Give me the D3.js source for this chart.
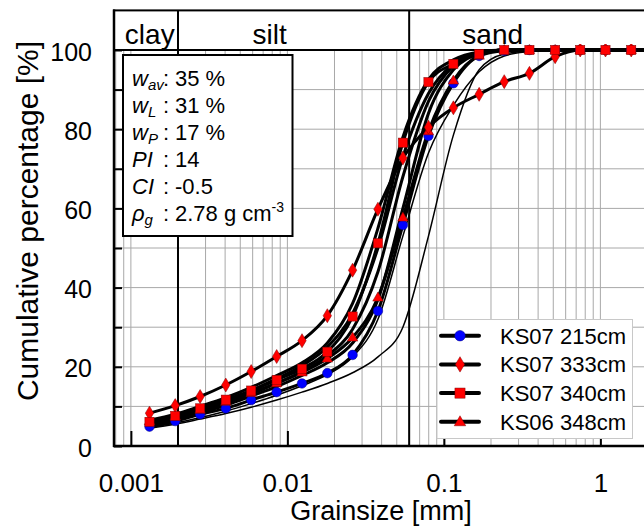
<!DOCTYPE html>
<html><head><meta charset="utf-8">
<script src="https://cdn.jsdelivr.net/npm/d3@7"></script>
<style>body{margin:0;background:#fff} svg{display:block;font-family:"Liberation Sans",Arial,sans-serif}</style>
</head><body><svg id="c" width="644" height="528"></svg>
<script>
// ---- data ----
const grain = [0.001315,0.00192,0.00277,0.00404,0.00587,0.00854,0.0124,0.0180,0.0261,0.0379,0.0547,0.0797,0.115,0.168,0.243,0.352,0.514,0.743,1.078,1.574,2.29];
const ks07_215 = [4.9,6.3,8.0,9.5,11.6,13.6,15.8,18.4,23.0,34.1,55.8,78.3,91.6,98.5,99.8,100,100,100,100,100,100];
const ks07_333 = [8.3,10.2,12.5,15.4,18.8,22.6,26.6,32.9,44.4,59.8,72.7,80.5,85.4,88.8,92.0,94.1,98.3,100,100,100,100];
const ks07_340 = [6.1,7.6,9.5,11.7,14.0,16.7,19.5,23.8,32.7,51.2,76.6,91.9,96.5,99.0,100,100,100,100,100,100,100];
const ks06_348 = [6.3,7.5,9.2,11.2,13.4,15.9,18.6,22.1,27.4,37.5,57.7,79.5,92.3,98.6,100,100,100,100,100,100,100];
// unmarked samples
const other1 = [6.5,8.0,10.0,12.2,14.8,17.8,21.0,26.0,36.0,55.0,78.0,92.5,97.5,99.5,100,100,100,100,100,100,100];
const other2 = [6.2,7.6,9.4,11.5,14.0,17.0,20.3,25.0,33.5,50.0,73.0,89.0,96.5,99.3,100,100,100,100,100,100,100];
const other3 = [5.8,7.2,8.9,10.9,13.2,15.8,18.8,22.8,29.5,44.0,68.0,87.0,96.0,99.2,100,100,100,100,100,100,100];
const other4 = [5.3,6.7,8.4,10.3,12.6,15.0,17.8,21.0,26.0,37.0,60.0,84.0,95.0,99.0,100,100,100,100,100,100,100];
const thin1 = [4.5,5.5,6.8,8.2,9.8,11.6,13.6,15.8,18.5,22.5,30.0,53.0,78.5,95.0,99.0,99.7,100,100,100,100,100];
const thin2 = [4.6,5.8,7.2,8.8,10.7,12.8,15.2,18.0,22.5,32.0,53.0,74.0,86.0,94.5,98.5,99.6,100,100,100,100,100];
const seriesNames = ["KS07 215cm","KS07 333cm","KS07 340cm","KS06 348cm"];
const xTicks = [0.001,0.01,0.1,1];
const xTickLabels = ["0.001","0.01","0.1","1"];
const yTicks = [0,10,20,30,40,50,60,70,80,90,100];
const yTickLabels = [0,20,40,60,80,100];
const boundaries = [0.002,0.06];
const classes = ["clay","silt","sand"];
const classPos = [0.00132,0.0077,0.205];
const props = [
  {sym:"w", sub:"av", val:"35 %"},
  {sym:"w", sub:"L", val:"31 %"},
  {sym:"w", sub:"P", val:"17 %"},
  {sym:"PI", sub:"", val:"14"},
  {sym:"CI", sub:"", val:"-0.5"},
  {sym:"ρ", sub:"g", val:"2.78 g cm", sup:"-3"}
];

// ---- layout ----
const svg = d3.select("#c");
const x = d3.scaleLog().domain([0.00078, 2.0]).range([114, 647.5]);
const y = d3.scaleLinear().domain([0, 110]).range([446, 10.4]);
const X0 = 114, X1 = 644;

// grid
const gridV = [];
for (let e = -4; e <= 0; e++) for (let k = 1; k <= 9; k++) { const v = k*Math.pow(10,e); if (v > 0.00078 && v < 2) gridV.push(v); }
svg.append("g").selectAll("line").data(gridV).join("line")
  .attr("x1", d=>x(d)).attr("x2", d=>x(d)).attr("y1", y(0)).attr("y2", y(100))
  .attr("stroke", "#a8a8a8").attr("stroke-width", 1);
svg.append("g").selectAll("line").data(d3.range(10,100,10)).join("line")
  .attr("x1", X0).attr("x2", X1).attr("y1", d=>y(d)).attr("y2", d=>y(d))
  .attr("stroke", "#a8a8a8").attr("stroke-width", 1);

// header box
svg.append("rect").attr("x", X0).attr("y", y(110)).attr("width", 540).attr("height", y(100)-y(110))
  .attr("fill", "#fff").attr("stroke", "#000").attr("stroke-width", 2);
svg.append("g").selectAll("line").data(boundaries).join("line")
  .attr("x1", d=>x(d)).attr("x2", d=>x(d)).attr("y1", y(110)).attr("y2", y(0))
  .attr("stroke", "#000").attr("stroke-width", 2);
svg.append("g").selectAll("text").data(classes).join("text")
  .attr("x", (d,i)=>x(classPos[i])).attr("y", 43.5).attr("text-anchor","middle")
  .attr("font-size", 28).text(d=>d);

// info box
svg.append("rect").attr("x", 123).attr("y", 55).attr("width", 169.5).attr("height", 181)
  .attr("fill", "#fff").attr("stroke", "#000").attr("stroke-width", 2);
const info = svg.append("g").attr("font-size", 22);
props.forEach((p,i) => {
  const by = 86 + i*27;
  const t = info.append("text").attr("x", 132).attr("y", by);
  t.append("tspan").attr("font-style","italic").text(p.sym);
  if (p.sub) t.append("tspan").attr("font-style","italic").attr("font-size",15).attr("dy",4).text(p.sub);
  info.append("text").attr("x", 163).attr("y", by).text(":");
  const v = info.append("text").attr("x", 175).attr("y", by).text(p.val);
  if (p.sup) v.append("tspan").attr("font-size",14).attr("dy",-9).text(p.sup);
});

// curves
svg.append("clipPath").attr("id","pc").append("rect").attr("x",X0).attr("y",44).attr("width",X1-X0).attr("height",402);
const line = d3.line().x(d=>x(d[0])).y(d=>y(d[1])).curve(d3.curveMonotoneX);
const curves = svg.append("g").attr("clip-path","url(#pc)").attr("fill","none").attr("stroke","#000")
  .attr("stroke-linejoin","round").attr("stroke-linecap","round");
[thin1, thin2].forEach(s => curves.append("path").attr("d", line(grain.map((g,i)=>[g,s[i]]))).attr("stroke-width",1.5));
[other1, other2, other3, other4].forEach(s => curves.append("path").attr("d", line(grain.map((g,i)=>[g,s[i]]))).attr("stroke-width",3));
const marked = [ks07_215, ks06_348, ks07_333, ks07_340];
marked.forEach(s => curves.append("path").attr("d", line(grain.map((g,i)=>[g,s[i]]))).attr("stroke-width",3));

// markers
const sym = {
  circle: (g,cx,cy,sc=1)=>g.append("circle").attr("cx",cx).attr("cy",cy).attr("r",4.8*sc).attr("fill","#0000ff").attr("stroke","#00007a").attr("stroke-width",0.5),
  diamond: (g,cx,cy,sc=1)=>g.append("path").attr("d",`M${cx},${cy-7*sc}L${cx+4.2*sc},${cy}L${cx},${cy+7*sc}L${cx-4.2*sc},${cy}Z`).attr("fill","#ff0000").attr("stroke","#800000").attr("stroke-width",0.5),
  square: (g,cx,cy,sc=1)=>g.append("rect").attr("x",cx-4.6*sc).attr("y",cy-4.6*sc).attr("width",9.2*sc).attr("height",9.2*sc).attr("fill","#ff0000").attr("stroke","#800000").attr("stroke-width",0.5),
  triangle: (g,cx,cy,sc=1)=>g.append("path").attr("d",`M${cx},${cy-5.5*sc}L${cx+5.2*sc},${cy+3.6*sc}L${cx-5.2*sc},${cy+3.6*sc}Z`).attr("fill","#ff0000").attr("stroke","#800000").attr("stroke-width",0.5)
};
const mk = svg.append("g").attr("clip-path","url(#pc)");
[[ks07_215,"circle"],[ks06_348,"triangle"],[ks07_333,"diamond"],[ks07_340,"square"]].forEach(([s,m]) => {
  grain.forEach((g,i) => { if (x(g) < X1) sym[m](mk, x(g), y(s[i])); });
});

// axes
const xAxis = d3.axisBottom(x).tickValues(xTicks).tickFormat((d,i)=>xTickLabels[i]).tickSizeInner(-15).tickSizeOuter(0).tickPadding(28);
const gx = svg.append("g").attr("transform",`translate(0,${y(0)})`).call(xAxis);
gx.select(".domain").remove();
gx.selectAll(".tick line").attr("stroke","#000").attr("stroke-width",2);
gx.selectAll(".tick text").attr("font-size",26).attr("font-family","Liberation Sans, Arial, sans-serif").attr("fill","#000");
svg.append("line").attr("x1",X0-1).attr("x2",X1).attr("y1",y(0)).attr("y2",y(0)).attr("stroke","#000").attr("stroke-width",2.5);

const yAxis = d3.axisLeft(y).tickValues(yTicks).tickFormat(d=>yTickLabels.includes(d)?d:"").tickSizeInner(-8).tickSizeOuter(0).tickPadding(22);
const gy = svg.append("g").attr("transform",`translate(${X0},0)`).call(yAxis);
gy.select(".domain").remove();
gy.selectAll(".tick line").attr("stroke","#000").attr("stroke-width",2);
gy.selectAll(".tick text").attr("font-size",25).attr("font-family","Liberation Sans, Arial, sans-serif").attr("fill","#000").attr("dy","0.4em");
svg.append("line").attr("x1",X0).attr("x2",X0).attr("y1",y(110)-1).attr("y2",y(0)+1).attr("stroke","#000").attr("stroke-width",2.5);

svg.append("text").attr("x",381).attr("y",520).attr("text-anchor","middle").attr("font-size",27).text("Grainsize [mm]");
svg.append("text").attr("transform","translate(38,221) rotate(-90)").attr("text-anchor","middle").attr("font-size",30).text("Cumulative percentage [%]");

// legend
const lg = svg.append("g");
lg.append("rect").attr("x",437).attr("y",319.5).attr("width",195.5).attr("height",119).attr("fill","#fff").attr("stroke","#c8c8c8").attr("stroke-width",1);
const lm = ["circle","diamond","square","triangle"];
seriesNames.forEach((n,i) => {
  const cy = 335.7 + i*28.7;
  lg.append("line").attr("x1",441).attr("x2",479).attr("y1",cy).attr("y2",cy).attr("stroke","#000").attr("stroke-width",4).attr("stroke-linecap","round");
  sym[lm[i]](lg, 460, cy, 1.1);
  lg.append("text").attr("x",500).attr("y",cy).attr("dy","0.36em").attr("font-size",22).text(n);
});
</script></body></html>
